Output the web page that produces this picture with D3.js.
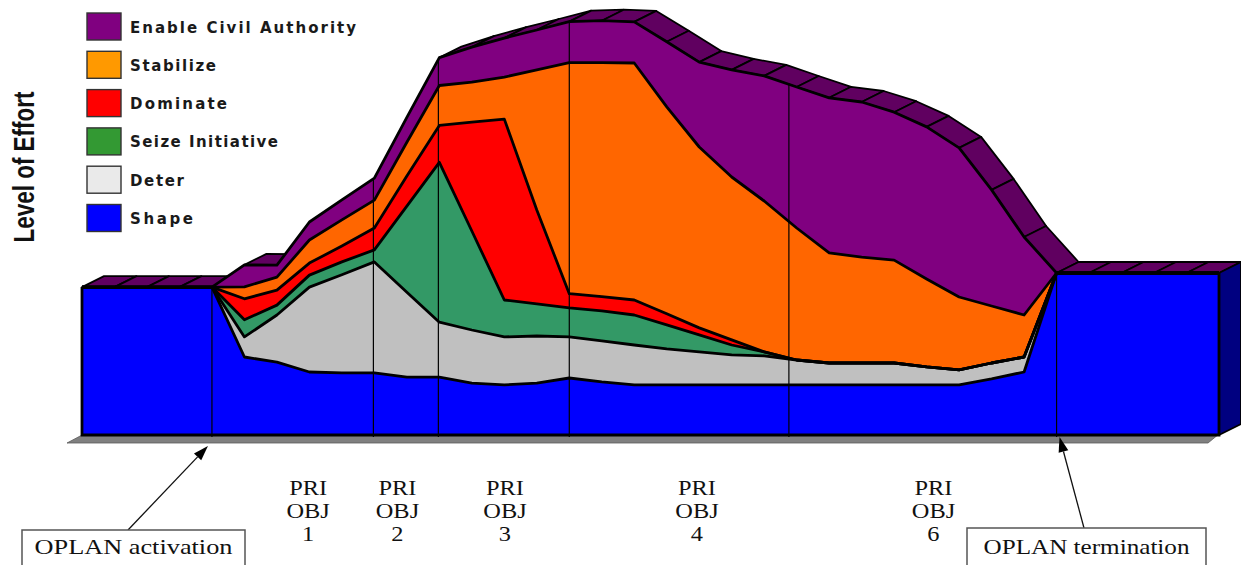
<!DOCTYPE html>
<html><head><meta charset="utf-8">
<script src="https://cdn.jsdelivr.net/npm/d3@7"></script>
<style>html,body{margin:0;padding:0;background:#fff}svg{display:block}</style>
</head><body>
<svg id="c" width="1241" height="565"></svg>
<script>
// ---- data (periods -4..-1 = pre-activation, 27..31 = post-termination) ----
const periods = [-4,-3,-2,-1,0,1,2,3,4,5,6,7,8,9,10,11,12,13,14,15,16,17,18,19,20,21,22,23,24,25,26,27,28,29,30,31];
const shape      = [49.3,49.3,49.3,49.3, 49.3,26,24.3,21,20.7,20.7,19.3,19.3,17.3,16.7,17.3,19,17.7,16.7,16.7,16.7,16.7,16.7,16.7,16.7,16.7,16.7,16.7,16.7,18.7,21,54, 54,54,54,54,54];
const deter      = [0,0,0,0, 0,6.7,15.7,28.3,32.7,37,28.3,18.3,17.7,16,15.7,13.7,13.7,13.3,12,11,10,9.7,8.3,7.3,7.3,7.3,6,5,5.3,5,0, 0,0,0,0,0];
const seize      = [0,0,0,0, 0,5.7,3.3,4,4.3,4,28.7,53.3,33,12.3,10.7,9.7,10,10,8,5.7,3.3,1.3,0,0,0,0,0,0,0,0,0, 0,0,0,0,0];
const dominate   = [0,0,0,0, 0,7,5,4,5.3,7.3,10,12.3,36.3,60.3,31.3,4.7,4.7,5,3.7,2.3,1.7,0,0,0,0,0,0,0,0,0,0, 0,0,0,0,0];
const stabilize  = [0,0,0,0, 0,4,4.3,7.7,8.7,9.3,11.3,13.3,13.3,14,46.7,77,78,79,69,60.3,54.3,50.3,44,36.7,35.3,34.3,29.3,24.3,19,14,0, 0,0,0,0,0];
const enableCivil= [0,0,0,0, 0,7.3,4,6,6.7,7.3,8.3,9.3,11.7,13,13.3,13.7,14,13.7,21.7,28.3,35.7,41.7,47,51.7,51.7,49.3,50.7,49.7,38.7,26,0, 0,0,0,0,0];

const seriesNames = ["Shape","Deter","Seize Initiative","Dominate","Stabilize","Enable Civil Authority"];
const seriesValues = [shape, deter, seize, dominate, stabilize, enableCivil];
const chartColors  = ["#0000ff","#c0c0c0","#339966","#ff0000","#ff6600","#800080"];
const legendNames  = ["Enable Civil Authority","Stabilize","Dominate","Seize Initiative","Deter","Shape"];
const legendColors = ["#800080","#ff9900","#ff0000","#339933","#eaeaea","#0000ff"];

const markers = [0, 4.97, 6.97, 11, 17.76, 26];
const objLabels = ["1","2","3","4","6"];
const objPositions = [2.96, 5.71, 9.02, 14.93, 22.21];
const activationPeriod = 0, terminationPeriod = 26;

// ---- setup ----
const svg = d3.select("#c");
const x = d3.scaleLinear().domain([-4, 31]).range([82, 1219]);
const y = d3.scaleLinear().domain([0, 145]).range([435, 0]);
const depth = {dx: 22, dy: -11};

const rows = periods.map((p, i) => {
  const r = {period: p};
  seriesNames.forEach((n, k) => r[n] = seriesValues[k][i]);
  return r;
});
const stacked = d3.stack().keys(seriesNames)(rows);
const topLayer = stacked[stacked.length - 1];
const xFirst = x(periods[0]), xLast = x(periods[periods.length - 1]);

// floor slab
svg.append("polygon")
  .attr("points", [[xFirst - 15, y(0) + 8], [xFirst + 2, y(0) - 1], [xLast, y(0) - 1], [xLast - 11, y(0) + 8]].join(" "))
  .attr("fill", "#808080").attr("stroke", "#5a5a5a").attr("stroke-width", 0.8);

// 3D rim on top surface
const rim = svg.append("g");
for (let i = 0; i < topLayer.length - 1; i++) {
  const a = [x(periods[i]), y(topLayer[i][1])];
  const b = [x(periods[i + 1]), y(topLayer[i + 1][1])];
  const cross = (b[0] - a[0]) * depth.dy - (b[1] - a[1]) * depth.dx;
  if (cross >= 0) continue;
  rim.append("polygon")
    .attr("points", [a, b, [b[0] + depth.dx, b[1] + depth.dy], [a[0] + depth.dx, a[1] + depth.dy]].join(" "))
    .attr("fill", "#600060").attr("stroke", "#000").attr("stroke-width", 1.8).attr("stroke-linejoin", "round");
}
// right side face
{
  const tp = [xLast, y(topLayer[topLayer.length - 1][1])];
  const bt = [xLast, y(0)];
  svg.append("polygon")
    .attr("points", [tp, [tp[0] + depth.dx, tp[1] + depth.dy], [bt[0] + depth.dx, bt[1] + depth.dy], bt].join(" "))
    .attr("fill", "#000080").attr("stroke", "#000").attr("stroke-width", 1.8).attr("stroke-linejoin", "round");
}

// front areas
const area = d3.area().x(d => x(d.data.period)).y0(d => y(d[0])).y1(d => y(d[1]));
svg.append("g").selectAll("path").data(stacked).join("path")
  .attr("d", area).attr("fill", (d, i) => chartColors[i])
  .attr("stroke", (d, i) => chartColors[i]).attr("stroke-width", 0.5);

// layer boundary lines
const line = d3.line().x(d => x(d.data.period)).y(d => y(d[1]));
svg.append("g").selectAll("path").data(stacked).join("path")
  .attr("d", line).attr("fill", "none").attr("stroke", "#000")
  .attr("stroke-width", 2.8).attr("stroke-linejoin", "round");

// outer edges of front face
svg.append("path")
  .attr("d", `M${xFirst},${y(topLayer[0][1])}L${xFirst},${y(0)}L${xLast},${y(0)}L${xLast},${y(topLayer[topLayer.length-1][1])}`)
  .attr("fill", "none").attr("stroke", "#000").attr("stroke-width", 2.8);

// marker lines
function topAt(p) {
  let i = d3.bisectRight(periods, p) - 1;
  i = Math.max(0, Math.min(periods.length - 2, i));
  const t = (p - periods[i]) / (periods[i + 1] - periods[i]);
  return topLayer[i][1] * (1 - t) + topLayer[i + 1][1] * t;
}
svg.append("g").selectAll("line").data(markers).join("line")
  .attr("x1", d => x(d)).attr("x2", d => x(d))
  .attr("y1", d => y(topAt(d))).attr("y2", y(0) + 2)
  .attr("stroke", "#000").attr("stroke-width", 1.2);

// legend
const lg = svg.append("g");
const legendWidths = [226, 86, 97, 148, 54, 63];
legendNames.forEach((n, k) => {
  const yy = 13 + k * 38.3;
  lg.append("rect").attr("x", 87).attr("y", yy).attr("width", 34).attr("height", 27)
    .attr("fill", legendColors[k]).attr("stroke", "#333").attr("stroke-width", 1.4);
  lg.append("text").attr("x", 130).attr("y", yy + 19.5).text(n)
    .attr("font-family", "DejaVu Sans, Verdana, sans-serif").attr("font-weight", "bold")
    .attr("font-size", 15).attr("fill", "#1a1a1a")
    .attr("textLength", legendWidths[k]).attr("lengthAdjust", "spacing");
});

// y axis title
svg.append("text").text("Level of Effort")
  .attr("transform", "translate(34,167) rotate(-90)")
  .attr("text-anchor", "middle")
  .attr("font-family", "Liberation Sans, Arial, sans-serif").attr("font-weight", "bold")
  .attr("font-size", 29).attr("fill", "#111")
  .attr("textLength", 151).attr("lengthAdjust", "spacingAndGlyphs");

// PRI OBJ labels
const lab = svg.append("g").attr("font-family", "Liberation Serif, Times New Roman, serif")
  .attr("font-size", 20).attr("fill", "#111").attr("text-anchor", "middle");
objLabels.forEach((t, k) => {
  ["PRI", "OBJ", t].forEach((s, j) => {
    lab.append("text").text(s)
      .attr("transform", `translate(${x(objPositions[k])},${495 + j * 23}) scale(1.22,1)`);
  });
});

// annotations
function arrow(x1, y1, x2, y2) {
  const ang = Math.atan2(y2 - y1, x2 - x1), L = 15, w = 5;
  const bx = x2 - L * Math.cos(ang), by = y2 - L * Math.sin(ang);
  svg.append("line").attr("x1", x1).attr("y1", y1).attr("x2", bx).attr("y2", by)
    .attr("stroke", "#111").attr("stroke-width", 1.3);
  svg.append("polygon").attr("points", [[x2, y2],
    [bx + w * Math.sin(ang), by - w * Math.cos(ang)],
    [bx - w * Math.sin(ang), by + w * Math.cos(ang)]].join(" ")).attr("fill", "#000");
}
function note(cx, top, w, txt, tl) {
  svg.append("rect").attr("x", cx - w / 2).attr("y", top).attr("width", w).attr("height", 60)
    .attr("fill", "#fff").attr("stroke", "#555").attr("stroke-width", 1.5);
  svg.append("text").text(txt).attr("x", cx).attr("y", 554).attr("text-anchor", "middle")
    .attr("font-family", "Liberation Serif, Times New Roman, serif").attr("font-size", 22)
    .attr("fill", "#111").attr("textLength", tl).attr("lengthAdjust", "spacingAndGlyphs");
}
arrow(128, 530, x(activationPeriod) - 4, y(0) + 11);
note(133.5, 530, 223, "OPLAN activation", 198);
arrow(1084, 528, x(terminationPeriod) + 3, y(0) + 2);
note(1086.5, 528, 239, "OPLAN termination", 206);
</script>
</body></html>
